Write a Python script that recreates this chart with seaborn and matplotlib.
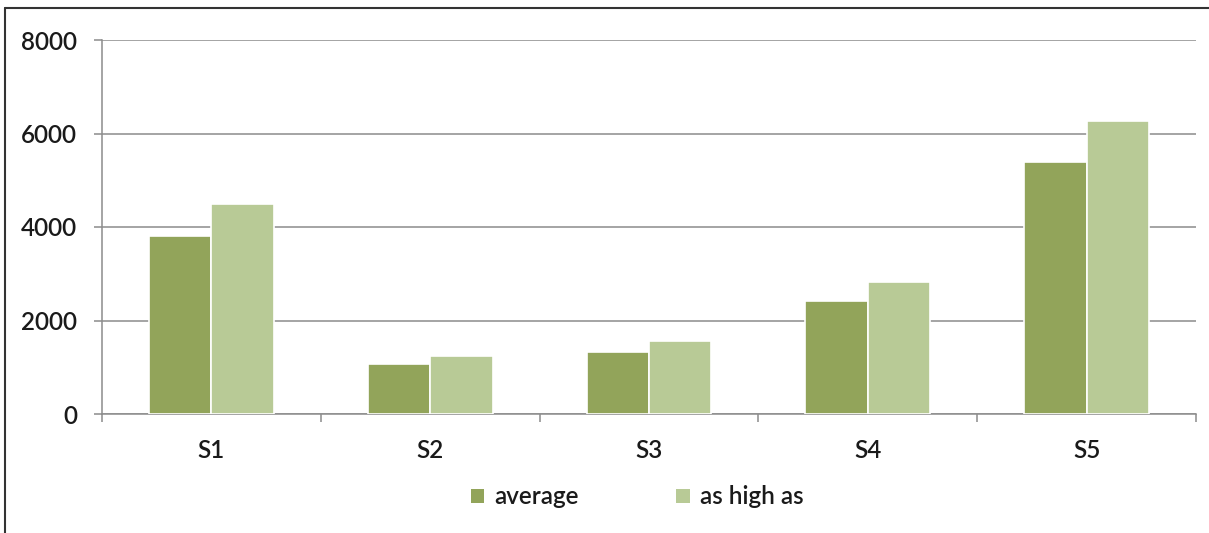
import matplotlib
matplotlib.use("Agg")
import matplotlib.pyplot as plt
from matplotlib.lines import Line2D
from matplotlib.patches import Patch
import seaborn as sns
import pandas as pd

categories = ["S1", "S2", "S3", "S4", "S5"]
average = [3800, 1060, 1320, 2420, 5390]
as_high_as = [4490, 1230, 1560, 2830, 6260]
series_names = ["average", "as high as"]
y_ticks = [0, 2000, 4000, 6000, 8000]

colors = {"average": "#92A45A", "as high as": "#B8CA96"}

df = pd.DataFrame({
    "category": categories * 2,
    "value": average + as_high_as,
    "series": [series_names[0]] * len(categories) + [series_names[1]] * len(categories),
})

sns.set_theme(style="white")
plt.rcParams["font.family"] = ["Lato", "DejaVu Sans"]
plt.rcParams["font.weight"] = "semibold"

TEXT = "#1a1a1a"
FS = 17.5

fig = plt.figure(figsize=(12.09, 5.33), dpi=100)
ax = fig.add_axes([102 / 1209, 1 - 414 / 533, (1196 - 102) / 1209, (414 - 40) / 533])

sns.barplot(data=df, x="category", y="value", hue="series", palette=colors,
            saturation=1, width=0.57, edgecolor="white", linewidth=1.2, ax=ax,
            legend=False, zorder=3)

ax.set_ylim(0, 8000)
ax.set_xlim(-0.5, len(categories) - 0.5)
ax.set_yticks(y_ticks)
ax.set_yticklabels([str(t) for t in y_ticks])
ax.yaxis.grid(True, color="#8c8c8c", linewidth=1.1, zorder=0)
ax.set_axisbelow(True)
ax.set_xlabel("")
ax.set_ylabel("")

for side in ["top", "right"]:
    ax.spines[side].set_visible(False)
for side in ["left", "bottom"]:
    ax.spines[side].set_color("#8c8c8c")
    ax.spines[side].set_linewidth(1.1)

# category boundary ticks on the x axis
ax.set_xticks([i - 0.5 for i in range(len(categories) + 1)], minor=True)
ax.tick_params(axis="x", which="minor", bottom=True, length=6, width=1.1, color="#8c8c8c")
ax.tick_params(axis="x", which="major", bottom=False, labelsize=FS, labelcolor=TEXT, pad=12)
ax.tick_params(axis="y", left=True, length=6, width=1.1, color="#8c8c8c",
               labelsize=FS, labelcolor=TEXT, pad=12)

handles = [Patch(facecolor=colors[n], edgecolor="none", label=n) for n in series_names]
fig.legend(handles=handles, loc="center", bbox_to_anchor=(0.527, 1 - 497 / 533),
           ncol=2, frameon=False, fontsize=FS, handlelength=0.55, handleheight=0.55,
           handletextpad=0.42, columnspacing=4.0, labelcolor=TEXT)

# outer frame of the chart area
fig.add_artist(Line2D([5 / 1209, 5 / 1209], [0, 1 - 8 / 533], color="#333333", linewidth=1.5))
fig.add_artist(Line2D([5 / 1209, 1], [1 - 8 / 533, 1 - 8 / 533], color="#333333", linewidth=1.5))

fig.savefig("out.png", dpi=100)
